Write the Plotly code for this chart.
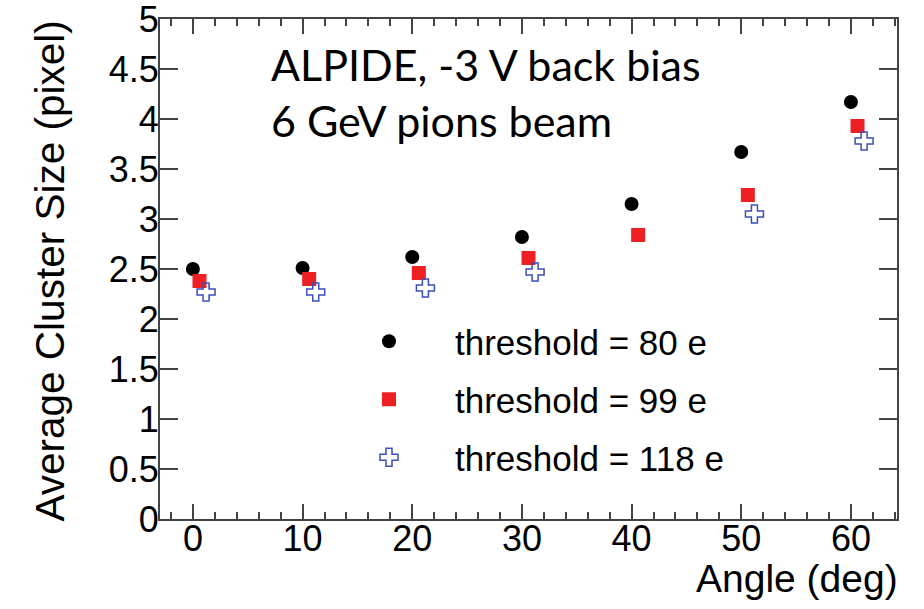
import plotly.graph_objects as go

# ---- data ----
angle_80 = [0.0, 10.0, 20.0, 30.0, 40.0, 50.0, 60.0]
size_80 = [2.50, 2.51, 2.62, 2.82, 3.15, 3.67, 4.17]

angle_99 = [0.6, 10.6, 20.6, 30.6, 40.6, 50.6, 60.6]
size_99 = [2.38, 2.40, 2.46, 2.61, 2.84, 3.24, 3.93]

angle_118 = [1.2, 11.2, 21.2, 31.2, 41.2, 51.2, 61.2]
size_118 = [2.27, 2.27, 2.31, 2.47, None, 3.05, 3.78]

names = ["threshold = 80 e", "threshold = 99 e", "threshold = 118 e"]
x_ticks = [0, 10, 20, 30, 40, 50, 60]
y_ticks = [0, 0.5, 1, 1.5, 2, 2.5, 3, 3.5, 4, 4.5, 5]
y_tick_text = ["0", "0.5", "1", "1.5", "2", "2.5", "3", "3.5", "4", "4.5", "5"]

FONT = "Liberation Sans, Arial, Helvetica, sans-serif"

fig = go.Figure()
fig.add_trace(go.Scatter(
    x=angle_80, y=size_80, mode="markers", name=names[0], legendgroup="a",
    marker=dict(symbol="circle", size=14, color="black", line=dict(width=0)),
))
fig.add_trace(go.Scatter(
    x=angle_99, y=size_99, mode="markers", name=names[1], legendgroup="b",
    marker=dict(symbol="square", size=14, color="#ee2024", line=dict(width=0)),
))
fig.add_trace(go.Scatter(
    x=angle_118, y=size_118, mode="markers", name=names[2], legendgroup="c",
    marker=dict(symbol="cross-open", size=15, color="#3d4fb8",
                line=dict(width=1.5, color="#3d4fb8")),
))

axis_common = dict(
    showgrid=False, zeroline=False, showline=True, linecolor="#444444",
    linewidth=2, mirror="ticks", ticks="inside", tickcolor="#444444",
    tickwidth=2, tickfont=dict(family=FONT, size=36, color="black"),
    automargin=False, ticklabeloverflow="allow",
)

fig.update_xaxes(
    range=[-3.0, 64.2], tickvals=x_ticks, ticklen=15, ticklabelstandoff=-13,
    minor=dict(dtick=2, ticklen=7, ticks="inside", tickcolor="#444444", tickwidth=2),
    **axis_common,
)
fig.update_yaxes(
    range=[0, 5], tickvals=y_ticks, ticktext=y_tick_text, ticklen=18,
    ticklabelstandoff=-8,
    **axis_common,
)

fig.add_annotation(
    text="Angle (deg)", xref="paper", yref="paper", x=1, y=0,
    xanchor="right", yanchor="middle", yshift=-59, xshift=3, showarrow=False,
    font=dict(family=FONT, size=39, color="black"),
)
fig.add_annotation(
    text="Average Cluster Size (pixel)", xref="paper", yref="paper", x=0, y=1,
    xanchor="center", yanchor="top", xshift=-111, textangle=-90, showarrow=False,
    font=dict(family=FONT, size=40.5, color="black"),
)
fig.add_annotation(
    text="ALPIDE, -3 V back bias<br>6 GeV pions beam", xref="paper", yref="paper",
    x=(269 - 160) / 737, y=1, xanchor="left", yanchor="top", yshift=-18,
    align="left", showarrow=False,
    font=dict(family="Lato, sans-serif", size=43, color="black"),
)

fig.update_layout(
    width=924, height=609,
    margin=dict(l=160, r=27, t=19, b=90, autoexpand=False),
    paper_bgcolor="white", plot_bgcolor="white",
    legend=dict(
        x=(323 - 160) / 737, y=(519 - 312) / 500, xanchor="left", yanchor="top",
        bgcolor="rgba(0,0,0,0)", itemwidth=122, tracegroupgap=9.5,
        font=dict(family=FONT, size=35, color="black"),
    ),
    showlegend=True,
)

fig.write_html(
    "out.html",
    config={"displayModeBar": False},
    post_script="document.body.style.margin='0';document.body.style.overflow='hidden';",
)
